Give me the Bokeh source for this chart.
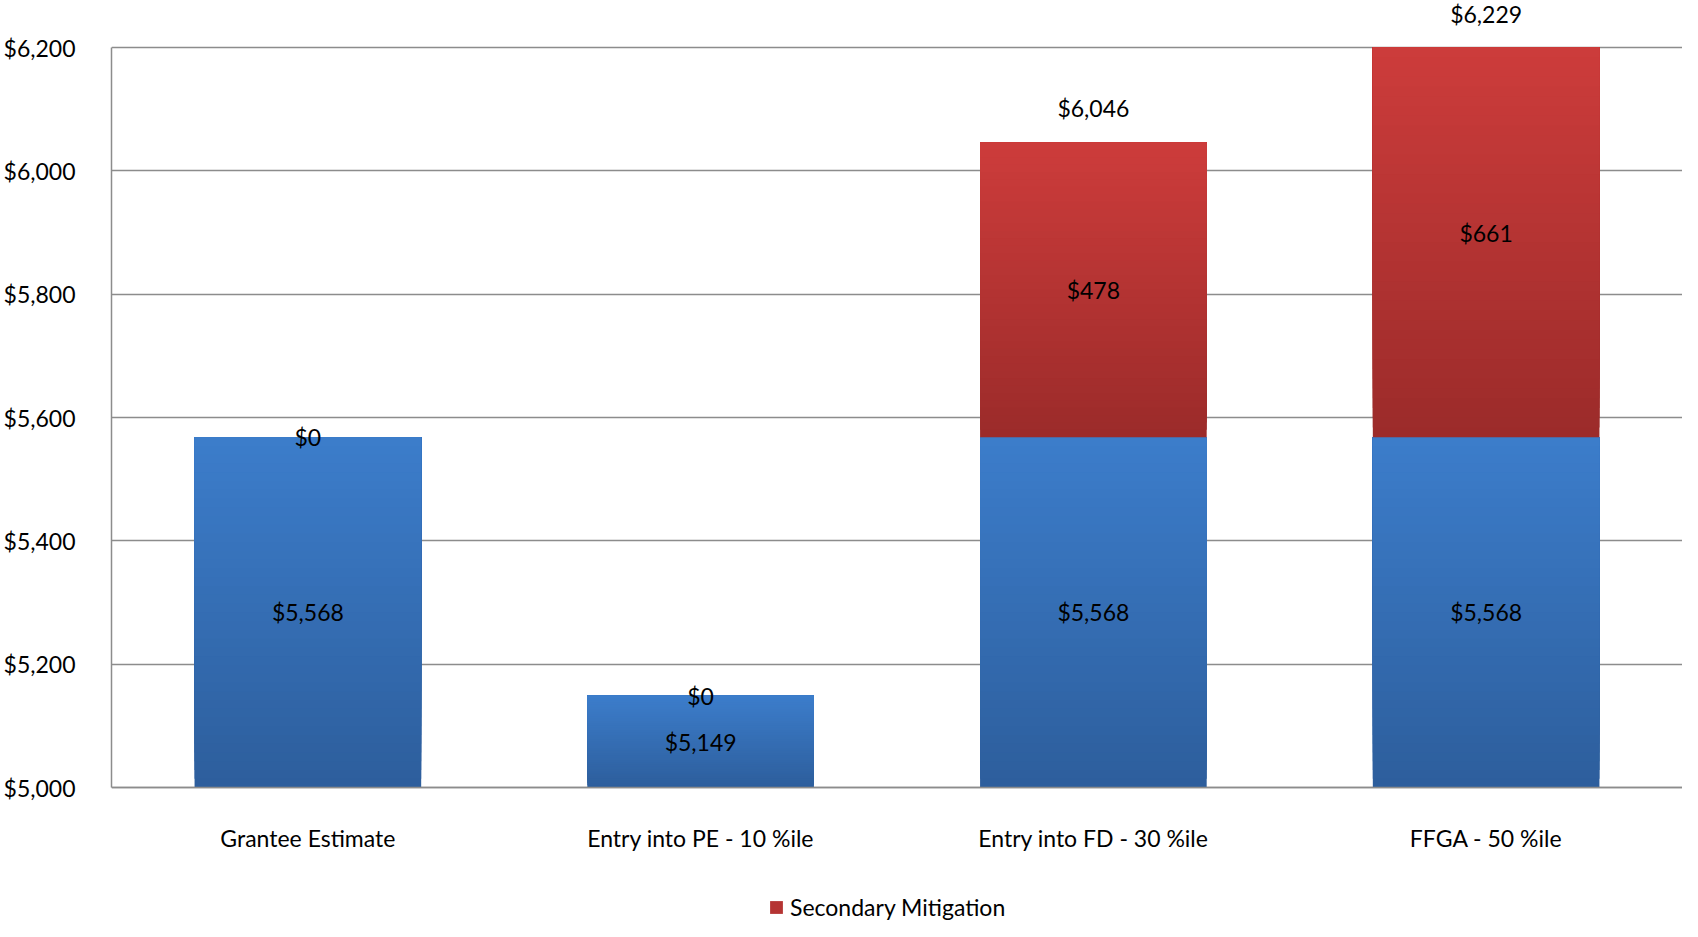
from bokeh.plotting import figure
from bokeh.models import (ColumnDataSource, Range1d, FactorRange, LabelSet, Legend,
                          LegendItem, NumeralTickFormatter, FixedTicker)
from bokeh.core.properties import value
from bokeh.embed import file_html
from bokeh.resources import INLINE

# ---- data ----
categories = ["Grantee Estimate", "Entry into PE - 10 %ile",
              "Entry into FD - 30 %ile", "FFGA - 50 %ile"]
base_cost = [5568, 5149, 5568, 5568]
secondary_mitigation = [0, 0, 478, 661]
y_ticks = [5000, 5200, 5400, 5600, 5800, 6000, 6200]

Y_MIN, Y_MAX = 5000, 6200          # axis limits of the chart
# visible window extends beyond the axis limits to host outside labels/legend
PX_PER_UNIT = 740 / (Y_MAX - Y_MIN)
Y_VIEW_TOP = Y_MAX + 47 / PX_PER_UNIT
Y_VIEW_BOTTOM = Y_MIN - 134 / PX_PER_UNIT
FONT = "Lato"
BLUE_TOP, BLUE_BOT = (0x3C, 0x7D, 0xCB), (0x2D, 0x5E, 0x9C)
RED_TOP, RED_BOT = (0xCD, 0x3C, 0x3B), (0x9B, 0x2B, 0x2A)
BAR_W = 0.577
N_SLICES = 40


def hexcol(c):
    return "#%02x%02x%02x" % tuple(int(round(v)) for v in c)


def gradient_source(xs, bottoms, tops, c_bot, c_top):
    d = dict(x=[], bottom=[], top=[], color=[])
    for x, b, t in zip(xs, bottoms, tops):
        lo = max(b, Y_MIN)
        hi = min(t, Y_MAX)
        if hi <= lo:
            continue
        step = (hi - lo) / N_SLICES
        for i in range(N_SLICES):
            f = (i + 0.5) / N_SLICES
            col = [c_bot[k] + (c_top[k] - c_bot[k]) * f for k in range(3)]
            d["x"].append(x)
            d["bottom"].append(lo + i * step)
            d["top"].append(hi)
            d["color"].append(hexcol(col))
    return ColumnDataSource(d)


totals = [b + s for b, s in zip(base_cost, secondary_mitigation)]

p = figure(x_range=FactorRange(*categories, range_padding=0),
           y_range=Range1d(Y_VIEW_BOTTOM, Y_VIEW_TOP),
           width=1682, height=921, output_backend="svg", toolbar_location=None,
           min_border_left=102, min_border_right=0, min_border_top=0,
           min_border_bottom=0)
p.outline_line_color = None
p.background_fill_color = "white"
p.border_fill_color = "white"

blue_src = gradient_source(categories, [0] * 4, base_cost, BLUE_BOT, BLUE_TOP)
red_src = gradient_source(categories, base_cost, totals, RED_BOT, RED_TOP)

p.vbar(x="x", bottom="bottom", top="top", width=BAR_W, source=blue_src,
       fill_color="color", line_color=None)
red_r = p.vbar(x="x", bottom="bottom", top="top", width=BAR_W, source=red_src,
               fill_color="color", line_color=None)

# ---- axes ----
p.yaxis.ticker = FixedTicker(ticks=y_ticks)
p.yaxis.bounds = (Y_MIN, Y_MAX)
p.yaxis.formatter = NumeralTickFormatter(format="$0,0")
p.yaxis.major_label_text_font = FONT
p.yaxis.major_label_text_font_size = "23px"
p.yaxis.major_label_text_color = "black"
p.yaxis.axis_line_color = "#8c8c8c"
p.yaxis.axis_line_width = 1.5
p.yaxis.major_tick_line_color = None
p.yaxis.minor_tick_line_color = None
p.yaxis.major_label_standoff = 30

p.xaxis.fixed_location = Y_MIN
p.xaxis.major_label_text_font = FONT
p.xaxis.major_label_text_font_size = "23px"
p.xaxis.major_label_text_color = "black"
p.xaxis.axis_line_color = "#8c8c8c"
p.xaxis.axis_line_width = 1.5
p.xaxis.major_tick_line_color = None
p.xaxis.minor_tick_line_color = None
p.xaxis.major_label_standoff = 30

p.xgrid.grid_line_color = None
p.ygrid.ticker = FixedTicker(ticks=y_ticks)
p.ygrid.grid_line_color = "#8c8c8c"
p.ygrid.grid_line_width = 1.5

# ---- data labels ----
def money(v):
    return "${:,.0f}".format(v)

lab_base = ColumnDataSource(dict(
    x=categories,
    y=[(max(0, Y_MIN) + min(v, Y_MAX)) / 2 for v in base_cost],
    t=[money(v) for v in base_cost]))
lab_sec = ColumnDataSource(dict(
    x=categories,
    y=[b + s / 2 for b, s in zip(base_cost, secondary_mitigation)],
    t=[money(v) for v in secondary_mitigation]))
tot_x = [c for c, s in zip(categories, secondary_mitigation) if s > 0]
tot_y = [min(t, Y_MAX) for t, s in zip(totals, secondary_mitigation) if s > 0]
tot_t = [money(t) for t, s in zip(totals, secondary_mitigation) if s > 0]
lab_tot = ColumnDataSource(dict(x=tot_x, y=tot_y, t=tot_t))

for src, yoff in ((lab_base, 0), (lab_sec, 0), (lab_tot, 34)):
    p.add_layout(LabelSet(x="x", y="y", text="t", source=src, y_offset=yoff,
                          text_align="center", text_baseline="middle",
                          text_font=value(FONT), text_font_size="23px",
                          text_color="black"))

# ---- legend ----
legend = Legend(items=[LegendItem(label="Secondary Mitigation", renderers=[red_r],
                                  index=N_SLICES // 2)],
                location=(657, 0), orientation="horizontal",
                label_text_font=FONT, label_text_font_size="23px",
                label_text_color="black", glyph_width=16, glyph_height=16,
                label_standoff=6, padding=0, margin=0, spacing=0,
                border_line_color=None, background_fill_alpha=0)
p.add_layout(legend, "center")

open("out.html", "w").write(file_html(p, INLINE))
